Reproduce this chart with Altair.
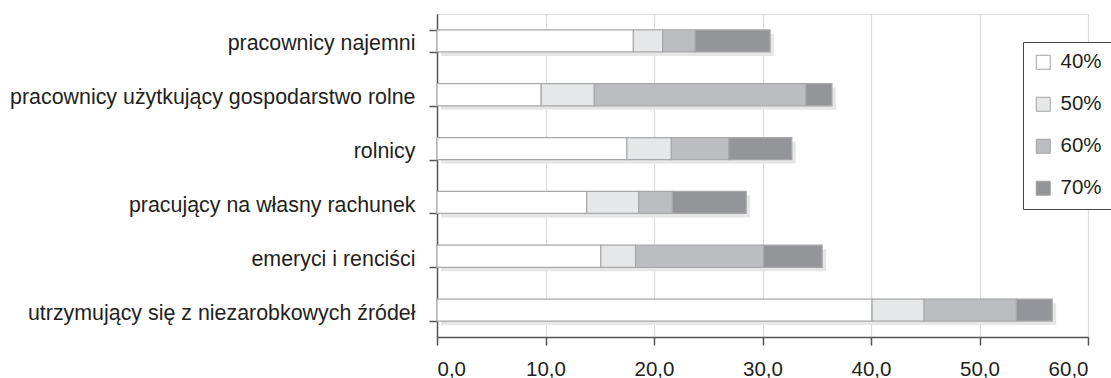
import altair as alt
import pandas as pd

# Household groups (top to bottom) and poverty-rate increments per threshold
categories = [
    "pracownicy najemni",
    "pracownicy użytkujący gospodarstwo rolne",
    "rolnicy",
    "pracujący na własny rachunek",
    "emeryci i renciści",
    "utrzymujący się z niezarobkowych źródeł",
]
thresholds = ["40%", "50%", "60%", "70%"]
share_40 = [18.1, 9.6, 17.5, 13.8, 15.1, 40.1]
share_50 = [2.7, 4.9, 4.1, 4.8, 3.2, 4.8]
share_60 = [3.0, 19.5, 5.3, 3.1, 11.8, 8.5]
share_70 = [6.9, 2.4, 5.8, 6.8, 5.4, 3.3]
x_ticks = [0, 10, 20, 30, 40, 50, 60]

fills = ["#ffffff", "#e6e7e9", "#bcbdc0", "#949598"]
series = [share_40, share_50, share_60, share_70]

rows = []
for k, (name, vals) in enumerate(zip(thresholds, series)):
    for cat, v in zip(categories, vals):
        rows.append({"grupa": cat, "próg": name, "udział": v, "kolejność": k})
df = pd.DataFrame(rows)

totals = pd.DataFrame({
    "grupa": categories,
    "razem": [a + b + c + d for a, b, c, d in zip(*series)],
})

FONT = "Liberation Sans"

y_enc = alt.Y(
    "grupa:N",
    sort=categories,
    scale=alt.Scale(paddingInner=0.59, paddingOuter=0.295),
    axis=alt.Axis(
        title=None,
        tickBand="extent",
        tickSize=8,
        tickColor="#555555",
        tickWidth=1.5,
        domainColor="#555555",
        domainWidth=1.5,
        labelFont=FONT,
        labelFontSize=21.4,
        labelColor="#231f20",
        labelPadding=14,
        labelOffset=3,
        labelLimit=500,
        grid=False,
    ),
)

x_scale = alt.Scale(domain=[0, 60], nice=False)
# Polish decimal comma on the tick labels (all ticks are whole tens)
x_axis = alt.Axis(
    title=None,
    values=x_ticks,
    labelExpr="datum.value + ',0'",
    tickSize=8,
    tickColor="#555555",
    tickWidth=1.5,
    domainColor="#555555",
    domainWidth=1.5,
    labelFont=FONT,
    labelFontSize=20.5,
    labelColor="#231f20",
    labelPadding=14,
    grid=True,
    gridColor="#dcdcdc",
    gridWidth=1.2,
)

shadow = alt.Chart(totals).mark_bar(
    color="#e6e6e6", xOffset=4, x2Offset=4, yOffset=4, y2Offset=4
).encode(
    x=alt.X("razem:Q", scale=x_scale, axis=x_axis),
    y=y_enc,
)

bars = alt.Chart(df).mark_bar(stroke="#a8a8a8", strokeWidth=1.2).encode(
    x=alt.X("udział:Q", stack="zero", scale=x_scale, axis=x_axis),
    y=y_enc,
    color=alt.Color(
        "próg:N",
        scale=alt.Scale(domain=thresholds, range=fills),
        legend=alt.Legend(
            title=None,
            orient="none",
            legendX=586,
            legendY=28,
            direction="vertical",
            symbolType="square",
            symbolSize=196,
            symbolStrokeColor="#a3a3a3",
            symbolStrokeWidth=1,
            labelFont=FONT,
            labelFontSize=20.5,
            labelColor="#231f20",
            labelOffset=7,
            rowPadding=21,
            padding=10,
            strokeColor="#444444",
            fillColor="#ffffff",
        ),
    ),
    order=alt.Order("kolejność:Q"),
)

chart = alt.layer(shadow, bars).properties(
    width=651,
    height=323,
    autosize=alt.AutoSizeParams(type="none"),
    padding={"left": 437, "top": 14, "right": 23, "bottom": 41},
).configure_view(
    stroke="#dcdcdc", strokeWidth=1.2
).configure(background="#ffffff")

chart.save("out.html", embed_options={"renderer": "svg", "actions": False})
